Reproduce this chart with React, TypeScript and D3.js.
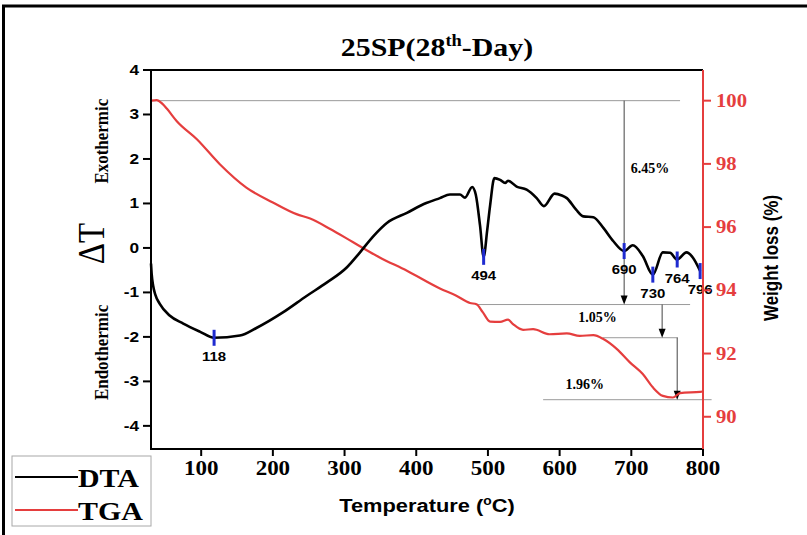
import React from 'react';
import * as d3 from 'd3';

// DTA (ΔT) curve
const dtaTemp = [30, 31, 33, 36, 42, 56, 75, 98, 118, 154, 177, 214, 247, 275, 303, 321, 340, 359, 387, 414, 433, 447, 461, 468, 478, 483, 489, 494, 499, 503, 509, 517, 524, 528, 540, 554, 568, 578, 593, 603, 610, 623, 633, 647, 661, 675, 690, 702, 716, 730, 744, 754, 764, 777, 786, 796];
const dtaVal = [-0.35, -0.6, -0.85, -1.05, -1.25, -1.52, -1.7, -1.88, -2.02, -1.97, -1.8, -1.45, -1.08, -0.78, -0.44, -0.11, 0.26, 0.56, 0.79, 1.01, 1.12, 1.2, 1.2, 1.13, 1.37, 1.2, 0.5, -0.2, 0.4, 0.95, 1.57, 1.53, 1.46, 1.51, 1.38, 1.31, 1.12, 0.94, 1.22, 1.18, 1.12, 0.86, 0.71, 0.69, 0.45, 0.15, -0.07, 0.06, -0.18, -0.6, -0.1, -0.11, -0.26, -0.1, -0.22, -0.52];

// TGA (weight %) curve
const tgaTemp = [30, 38, 46, 52, 66, 94, 126, 163, 200, 233, 252, 280, 312, 349, 387, 433, 456, 475, 484, 493, 503, 517, 528, 535, 549, 563, 586, 610, 628, 647, 661, 680, 698, 716, 730, 744, 758, 768, 796, 800];
const tgaVal = [100.0, 100.02, 99.9, 99.75, 99.35, 98.78, 97.99, 97.25, 96.78, 96.41, 96.27, 95.94, 95.52, 95.04, 94.62, 94.06, 93.83, 93.6, 93.56, 93.3, 93.01, 93.0, 93.07, 92.93, 92.75, 92.77, 92.61, 92.64, 92.56, 92.58, 92.46, 92.14, 91.72, 91.35, 90.93, 90.66, 90.61, 90.75, 90.79, 90.8];

const xTicks = [100, 200, 300, 400, 500, 600, 700, 800];
const leftTicks = [-4, -3, -2, -1, 0, 1, 2, 3, 4];
const rightTicks = [90, 92, 94, 96, 98, 100];

const peakTemps = [118, 494, 690, 730, 764, 796];

// weight-loss step annotations
const refLevels = [100, 93.55, 92.5, 90.54];
const refStart = [30, 482, 660, 577];
const refEnd = [768, 782, 765, 812];
const arrowTemps = [690, 743, 764];
const stepLabels = ['6.45%', '1.05%', '1.96%'];
const labelTemps = [726, 653, 635];
const labelLevels = [97.87, 93.15, 91.03];

const legendNames = ['DTA', 'TGA'];

const W = 807;
const H = 535;
const SERIF = '"Liberation Serif", "Times New Roman", serif';
const SANS = '"Liberation Sans", Arial, sans-serif';
const RED = '#e53e3e';
const BLUE = '#1f2bd0';
const S = 1.15;

function Txt(props: any) {
  const { x, y, rot, sx, children, ...rest } = props;
  const k = sx ?? S;
  return (
    <text transform={`translate(${x},${y}) scale(${k},1)${rot ? ` rotate(${rot})` : ''}`} {...rest}>
      {children}
    </text>
  );
}

export default function App() {
  const x = d3.scaleLinear().domain([30, 800]).range([151, 703]);
  const yL = d3.scaleLinear().domain([-4.52, 4]).range([449, 70]);
  const yR = d3.scaleLinear().domain([88.98, 100.97]).range([449, 70]);

  const dtaLine = d3
    .line<number>()
    .x((_, i) => x(dtaTemp[i]))
    .y((d) => yL(d))
    .curve(d3.curveMonotoneX);
  const tgaLine = d3
    .line<number>()
    .x((_, i) => x(tgaTemp[i]))
    .y((d) => yR(d))
    .curve(d3.curveMonotoneX);

  const [x0, x1] = x.range();
  const [yb, yt] = yL.range();

  return (
    <svg width={W} height={H} style={{ position: 'absolute', left: 0, top: 0, background: '#fff' }}>
      <rect x={0} y={0} width={W} height={H} fill="#fff" />
      {/* outer frame */}
      <rect x={3.5} y={6} width={W + 10} height={H + 10} fill="none" stroke="#000" strokeWidth={3} />

      {/* title */}
      <Txt x={437} y={56} textAnchor="middle" fontFamily={SERIF} fontWeight="bold" fontSize={26}>
        25SP(28<tspan dy={-10} fontSize={16}>th</tspan>
        <tspan dy={10}>-Day)</tspan>
      </Txt>

      {/* reference annotation lines */}
      {refLevels.map((lv, i) => (
        <line key={'h' + i} x1={x(refStart[i])} x2={x(refEnd[i])} y1={yR(lv)} y2={yR(lv)} stroke="#9a9a9a" strokeWidth={1} />
      ))}
      {arrowTemps.map((t, i) => {
        const ax = x(t);
        const ya = yR(refLevels[i]);
        const yb2 = yR(refLevels[i + 1]);
        return (
          <g key={'a' + i}>
            <line x1={ax} x2={ax} y1={ya} y2={yb2 - 6} stroke="#444" strokeWidth={1} />
            <path d={`M${ax - 3.5},${yb2 - 9} L${ax + 3.5},${yb2 - 9} L${ax},${yb2} Z`} fill="#000" />
          </g>
        );
      })}
      {stepLabels.map((s, i) => (
        <text key={'sl' + i} x={x(labelTemps[i])} y={yR(labelLevels[i]) + 5} textAnchor="middle" fontFamily={SERIF} fontWeight="bold" fontSize={14}>
          {s}
        </text>
      ))}

      {/* curves */}
      <path d={tgaLine(tgaVal) || ''} fill="none" stroke={RED} strokeWidth={2.2} />
      <path d={dtaLine(dtaVal) || ''} fill="none" stroke="#000" strokeWidth={2.6} strokeLinejoin="round" />

      {/* peak markers */}
      {peakTemps.map((p) => {
        const v = dtaVal[dtaTemp.indexOf(p)];
        const px = x(p);
        const py = yL(v);
        return (
          <g key={'p' + p}>
            <line x1={px} x2={px} y1={py - 8} y2={py + 8} stroke={BLUE} strokeWidth={3} />
            <Txt x={px} y={py + 23} textAnchor="middle" fontFamily={SANS} fontWeight="bold" fontSize={13}>
              {p}
            </Txt>
          </g>
        );
      })}

      {/* frame: top, left, bottom black; right red */}
      <line x1={x0} x2={x1} y1={yt} y2={yt} stroke="#000" strokeWidth={2} />
      <line x1={x0} x2={x0} y1={yt - 1} y2={yb + 1} stroke="#000" strokeWidth={2} />
      <line x1={x0} x2={x1} y1={yb} y2={yb} stroke="#000" strokeWidth={2} />
      <line x1={x1} x2={x1} y1={yt} y2={yb} stroke={RED} strokeWidth={2} />

      {/* x axis */}
      {xTicks.map((t) => (
        <g key={'xt' + t}>
          <line x1={x(t)} x2={x(t)} y1={yb} y2={yb + 7} stroke="#000" strokeWidth={2} />
          <Txt x={x(t)} y={yb + 26} textAnchor="middle" fontFamily={SERIF} fontWeight="bold" fontSize={20}>
            {t}
          </Txt>
        </g>
      ))}
      <Txt x={427} y={512} textAnchor="middle" fontFamily={SANS} fontWeight="bold" fontSize={19}>
        Temperature (<tspan dy={-7} fontSize={12}>o</tspan>
        <tspan dy={7}>C)</tspan>
      </Txt>

      {/* left axis */}
      {leftTicks.map((t) => (
        <g key={'yl' + t}>
          <line x1={x0 - 8} x2={x0} y1={yL(t)} y2={yL(t)} stroke="#000" strokeWidth={2} />
          <Txt x={x0 - 12} y={yL(t) + 5} textAnchor="end" fontFamily={SANS} fontWeight="bold" fontSize={15}>
            {t}
          </Txt>
        </g>
      ))}
      <Txt x={108} y={yL(2.4)} rot={-90} textAnchor="middle" fontFamily={SERIF} fontWeight="bold" fontSize={17}>
        Exothermic
      </Txt>
      <Txt x={108} y={yL(-2.35)} rot={-90} textAnchor="middle" fontFamily={SERIF} fontWeight="bold" fontSize={17}>
        Endothermic
      </Txt>
      <Txt x={104} y={yL(0.1)} rot={-90} textAnchor="middle" fontFamily={SERIF} fontSize={33}>
        ΔT
      </Txt>

      {/* right axis */}
      {rightTicks.map((t) => (
        <g key={'yr' + t}>
          <line x1={x1} x2={x1 + 8} y1={yR(t)} y2={yR(t)} stroke={RED} strokeWidth={2} />
          <Txt x={x1 + 13} y={yR(t) + 6} textAnchor="start" fontFamily={SERIF} fontWeight="bold" fontSize={18} fill={RED}>
            {t}
          </Txt>
        </g>
      ))}
      <Txt x={778} y={258} rot={-90} textAnchor="middle" fontFamily={SANS} fontWeight="bold" fontSize={17}>
        Weight loss (%)
      </Txt>

      {/* legend */}
      <rect x={12} y={456} width={139} height={70} fill="#fff" stroke="#a8a8a8" strokeWidth={1} />
      {legendNames.map((n, i) => (
        <g key={'lg' + n}>
          <line x1={15} x2={78} y1={477 + i * 33} y2={477 + i * 33} stroke={i === 0 ? '#000' : RED} strokeWidth={2} />
          <Txt x={78} y={487 + i * 33} fontFamily={SERIF} fontWeight="bold" fontSize={26}>
            {n}
          </Txt>
        </g>
      ))}
    </svg>
  );
}
